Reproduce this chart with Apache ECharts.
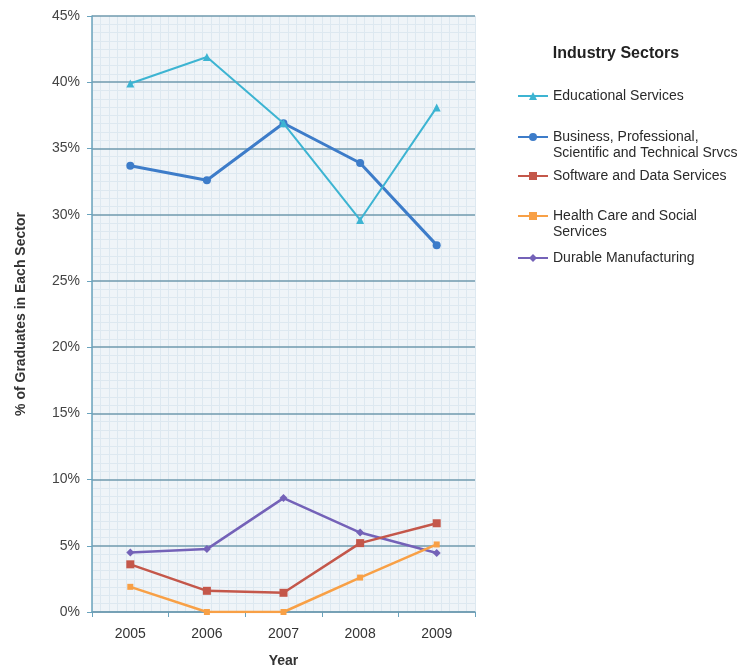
<!DOCTYPE html>
<html>
<head>
<meta charset="utf-8">
<script src="https://cdn.jsdelivr.net/npm/echarts@6/dist/echarts.min.js"></script>
<style>html,body{margin:0;padding:0;background:#fff}#c{width:753px;height:667px}</style>
</head>
<body>
<div id="c"></div>
<script>
const years = ['2005', '2006', '2007', '2008', '2009'];
const educational = [39.9, 41.9, 36.9, 29.6, 38.1];
const business = [33.7, 32.6, 36.9, 33.9, 27.7];
const software = [3.6, 1.6, 1.45, 5.2, 6.7];
const healthCare = [1.9, 0, 0, 2.6, 5.1];
const durable = [4.5, 4.75, 8.6, 6.0, 4.45];
const seriesNames = [
  'Educational Services',
  'Business, Professional,\nScientific and Technical Srvcs',
  'Software and Data Services',
  'Health Care and Social\nServices',
  'Durable Manufacturing'
];
const yTicks = [0, 5, 10, 15, 20, 25, 30, 35, 40, 45];

const colors = ['#3db4d2', '#3d7cc9', '#c4574a', '#f8a046', '#7462b8'];
const symbols = ['triangle', 'circle', 'rect', 'rect', 'diamond'];
const symbolSizes = [8, 8, 8, 6, 8];
const widths = [2, 3, 2.5, 2.5, 2.5];
const dataSets = [educational, business, software, healthCare, durable];
const legendTops = [96, 137, 176, 216, 258];
const font = 'Liberation Sans, Arial, sans-serif';

const chart = echarts.init(document.getElementById('c'));
chart.setOption({
  animation: false,
  grid: { left: 92, right: 278, top: 16, bottom: 55, show: true, backgroundColor: '#eff4f8', borderWidth: 0,
    outerBoundsMode: 'none', containLabel: false },
  title: {
    text: 'Industry Sectors', left: 616, top: 46, textAlign: 'center', padding: 0,
    textStyle: { fontFamily: font, fontSize: 16, fontWeight: 'bold', color: '#222' }
  },
  legend: seriesNames.map((n, i) => {
    const multi = n.indexOf('\n') >= 0;
    return {
      data: [n], left: 517, top: legendTops[i] - (multi ? 24 : 8), padding: 0,
      itemWidth: 30, itemHeight: 10, itemGap: 0,
      formatter: name => multi ? '\n' + name : name,
      textStyle: { fontFamily: font, fontSize: 14, color: '#2a2a2a', lineHeight: 16 }
    };
  }),
  xAxis: [{
    type: 'category', data: years, boundaryGap: true, z: 2,
    name: 'Year', nameLocation: 'middle', nameGap: 42,
    nameTextStyle: { fontFamily: font, fontSize: 14, fontWeight: 'bold', color: '#333' },
    axisLine: { lineStyle: { color: '#6aa3bd', width: 1.5 } },
    axisTick: { show: true, length: 5, lineStyle: { color: '#6aa3bd' } },
    axisLabel: { fontFamily: font, fontSize: 14, color: '#333', margin: 15 },
    splitLine: { show: false }
  }, {
    type: 'value', min: 0, max: 5, interval: 1, show: true, position: 'top', z: 0,
    axisLine: { show: false }, axisTick: { show: false }, axisLabel: { show: false },
    splitLine: { show: true, lineStyle: { color: '#dde8f0', width: 1 } },
    minorTick: { show: false, splitNumber: 9 },
    minorSplitLine: { show: true, lineStyle: { color: '#dde8f0', width: 1 } }
  }],
  yAxis: {
    type: 'value', min: 0, max: 45, interval: 5, z: 3,
    name: '% of Graduates in Each Sector', nameLocation: 'middle', nameGap: 64, nameRotate: 90,
    nameTextStyle: { fontFamily: font, fontSize: 14, fontWeight: 'bold', color: '#333' },
    axisLine: { show: true, lineStyle: { color: '#6aa3bd', width: 1.5 } },
    axisTick: { show: true, length: 5, lineStyle: { color: '#6aa3bd' } },
    axisLabel: { fontFamily: font, fontSize: 14, color: '#444', margin: 12,
      formatter: v => yTicks.indexOf(v) >= 0 ? v + '%' : '' },
    splitLine: { show: true, lineStyle: { color: '#6f9aae', width: 1.5 } },
    minorTick: { show: false, splitNumber: 8 },
    minorSplitLine: { show: true, lineStyle: { color: '#dde8f0', width: 1 } }
  },
  series: seriesNames.map((n, i) => ({
    name: n, type: 'line', data: dataSets[i], xAxisIndex: 0,
    symbol: symbols[i], symbolSize: symbolSizes[i],
    itemStyle: { color: colors[i] },
    lineStyle: { color: colors[i], width: widths[i] },
    z: 10 - i
  }))
});
</script>
</body>
</html>
